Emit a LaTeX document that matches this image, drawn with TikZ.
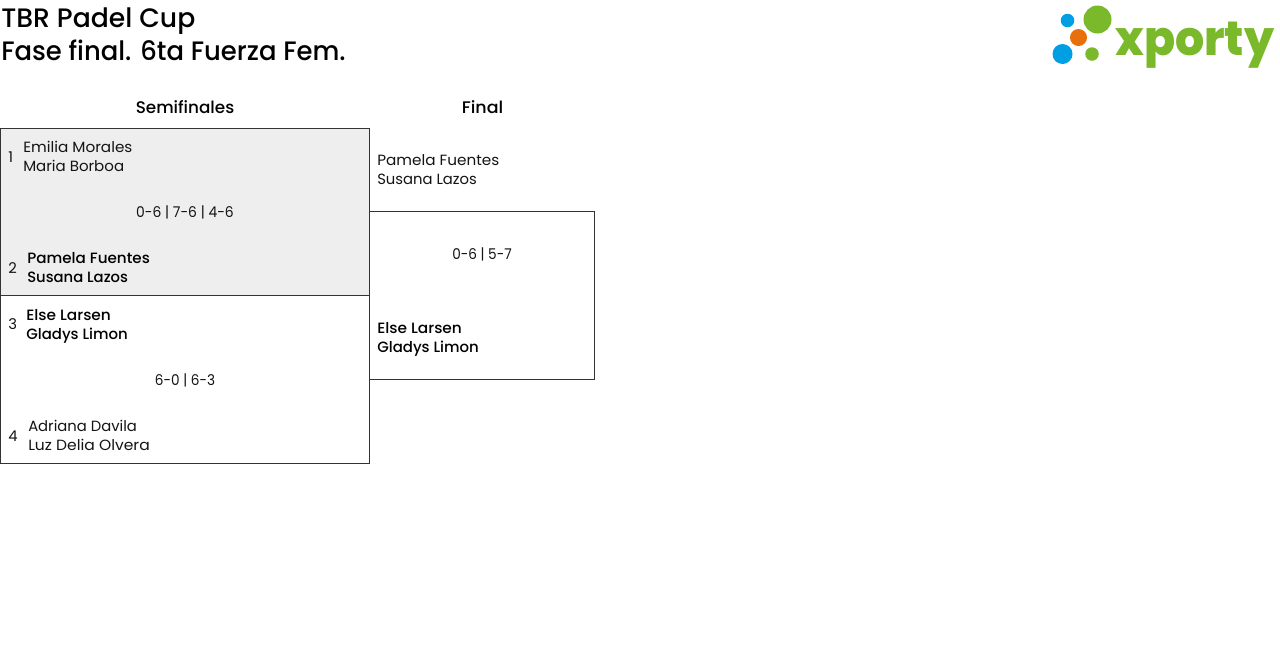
\documentclass[tikz,border=0pt]{standalone}
\usepackage{fontspec}
\setmainfont{Poppins}
\newfontfamily\regf{Poppins}
\newfontfamily\medf{Poppins Medium}
\newfontfamily\logof{Poppins ExtraBold}
\definecolor{logogreen}{HTML}{7AB929}
\definecolor{logoblue}{HTML}{009FE3}
\definecolor{logoorange}{HTML}{E8700A}
\definecolor{winbg}{HTML}{EEEEEE}
\definecolor{ink}{HTML}{333333}
\newcommand{\hs}[2]{\scalebox{#1}[1]{#2}}
\tikzset{
  x=0.75pt,y=-0.75pt,
  boxed/.style={draw=ink,line width=0.75pt},
  txt/.style={inner sep=0pt,anchor=base west,font=\regf\fontsize{11.1}{14.2}\selectfont,text=black!92},
  win/.style={inner sep=0pt,anchor=base west,font=\medf\fontsize{11.2}{14.2}\selectfont},
  ctr/.style={inner sep=0pt,anchor=base,font=\regf\fontsize{11.1}{14.2}\selectfont,text=black!92},
  head/.style={inner sep=0pt,anchor=base,font=\medf\fontsize{12.6}{15}\selectfont},
  ttl/.style={inner sep=0pt,anchor=base west,font=\medf\fontsize{20}{24}\selectfont},
  dot/.style={circle,inner sep=0pt,minimum size=#1*0.75pt}
}
\begin{document}
\begin{tikzpicture}
\useasboundingbox (0,0) rectangle (1280,661);
\fill[white] (0,0) rectangle (1280,661);
\node[ttl] (t1) at (1,27) {TBR Padel Cup};
\node[ttl] (t2) at (1,60) {\hs{0.97}{Fase final. 6ta Fuerza Fem.}};
\node[head] (hs) at (185,113) {Semifinales};
\node[head] (hf) at (482.5,113) {\hs{1.04}{Final}};
\fill[winbg] (0.5,128.5) rectangle (369.5,295.5);
\draw[boxed] (0.5,128.5) rectangle (369.5,295.5);
\draw[boxed] (0.5,295.5) rectangle (369.5,463.5);
\draw[boxed] (369.5,211.5) rectangle (594.5,379.5);
\node[txt] (n1) at (8,162) {1};
\node[txt] (p1a) at (23,152) {\hs{1.03}{Emilia Morales}};
\node[txt] (p1b) at (23,171) {\hs{1.015}{Maria Borboa}};
\node[ctr] (s1) at (185,217) {\hs{0.94}{0-6 | 7-6 | 4-6}};
\node[txt] (n2) at (8,273) {2};
\node[win] (p2a) at (27,263) {\hs{1.016}{Pamela Fuentes}};
\node[win] (p2b) at (27,282) {\hs{0.99}{Susana Lazos}};
\node[txt] (n3) at (8,329) {3};
\node[win] (p3a) at (26,320) {\hs{1.03}{Else Larsen}};
\node[win] (p3b) at (26,339) {\hs{1.0}{Gladys Limon}};
\node[ctr] (s2) at (185,385) {\hs{0.92}{6-0 | 6-3}};
\node[txt] (n4) at (8,441) {4};
\node[txt] (p4a) at (28,431) {\hs{1.0}{Adriana Davila}};
\node[txt] (p4b) at (28,450) {\hs{1.05}{Luz Delia Olvera}};
\node[txt] (f1a) at (377,165) {\hs{1.03}{Pamela Fuentes}};
\node[txt] (f1b) at (377,184) {\hs{1.0}{Susana Lazos}};
\node[ctr] (s3) at (482,259) {\hs{0.92}{0-6 | 5-7}};
\node[win] (f2a) at (377,333) {\hs{1.03}{Else Larsen}};
\node[win] (f2b) at (377,352) {\hs{1.0}{Gladys Limon}};
\node[dot=28,fill=logogreen] (c1) at (1097.5,19.5) {};
\node[dot=13.5,fill=logoblue] (c2) at (1067.5,20.5) {};
\node[dot=17,fill=logoorange] (c3) at (1078.5,37.5) {};
\node[dot=20,fill=logoblue] (c4) at (1062.5,54) {};
\node[dot=13.5,fill=logogreen] (c5) at (1092,54) {};
\node[inner sep=0pt,anchor=base west,text=logogreen,font=\logof\fontsize{36}{36}\selectfont] (logo) at (1115,55) {\hs{0.955}{xporty}};
\end{tikzpicture}
\end{document}
